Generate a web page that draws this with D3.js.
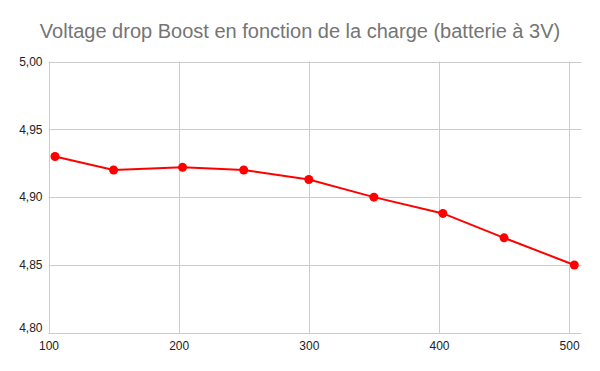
<!DOCTYPE html>
<html>
<head>
<meta charset="utf-8">
<script src="https://cdn.jsdelivr.net/npm/d3@7"></script>
<style>
  body { margin: 0; background: #fff; }
  svg { display: block; font-family: "Liberation Sans", Arial, sans-serif; }
</style>
</head>
<body>
<div class="chart"></div>
<script>
// load data
const charge = [105, 150, 203, 250, 300, 350, 403, 450, 504];
const voltage = [4.93, 4.92, 4.922, 4.92, 4.913, 4.9, 4.888, 4.87, 4.85];
const xTicks = [100, 200, 300, 400, 500];
const yTicks = [4.8, 4.85, 4.9, 4.95, 5.0];
const title = "Voltage drop Boost en fonction de la charge (batterie à 3V)";

const data = charge.map((c, i) => ({ charge: c, voltage: voltage[i] }));

// global svg variables
let width = 600;
let height = 371;
let margin = { top: 61.5, right: 18.5, bottom: 38.5, left: 48.5 };

let x = d3
  .scaleLinear()
  .domain([100, 509.5])
  .range([margin.left, width - margin.right]);

let y = d3
  .scaleLinear()
  .domain([4.8, 5.0])
  .range([height - margin.bottom + 0.3, margin.top]);

let graph = d3
  .select(".chart")
  .append("svg")
  .attr("width", width)
  .attr("height", height);

// title
graph
  .append("text")
  .text(title)
  .attr("x", width / 2)
  .attr("y", 37.5)
  .attr("fill", "#757575")
  .style("font-size", "20px")
  .style("text-anchor", "middle");

// vertical grid
graph
  .append("g")
  .attr("id", "xGrid")
  .selectAll("line")
  .data(xTicks)
  .enter()
  .append("line")
  .attr("x1", d => Math.round(x(d)) + 0.5)
  .attr("x2", d => Math.round(x(d)) + 0.5)
  .attr("y1", margin.top)
  .attr("y2", y(4.8))
  .attr("stroke", "#cccccc");

// horizontal grid
graph
  .append("g")
  .attr("id", "yGrid")
  .selectAll("line")
  .data(yTicks)
  .enter()
  .append("line")
  .attr("x1", margin.left)
  .attr("x2", width - margin.right)
  .attr("y1", d => Math.round(y(d)) + 0.5)
  .attr("y2", d => Math.round(y(d)) + 0.5)
  .attr("stroke", "#cccccc");

// Axis ticks
let fmt = d => d3.format(".2f")(d).replace(".", ",");

let xAxis = g =>
  g
    .attr("transform", `translate(0,${y(4.8)})`)
    .call(d3.axisBottom(x).tickValues(xTicks).tickSize(0).tickPadding(9))
    .call(g => g.select(".domain").remove())
    .attr("id", "xAxis");

let yAxis = g =>
  g
    .attr("transform", `translate(${margin.left},0)`)
    .call(d3.axisLeft(y).tickValues(yTicks).tickFormat(fmt).tickSize(0).tickPadding(6))
    .call(g => g.select(".domain").remove())
    .attr("id", "yAxis");

graph.append("g").call(xAxis);
graph.append("g").call(yAxis);

// bottom y label sits above its gridline
graph
  .select("#yAxis")
  .selectAll(".tick text")
  .filter(d => d === 4.8)
  .attr("dy", "-0.1em");

graph
  .selectAll(".tick text")
  .attr("fill", "#222")
  .style("font-size", "12px")
  .style("font-family", "'Liberation Sans', Arial, sans-serif");

// line
let line = d3
  .line()
  .x(d => x(d.charge))
  .y(d => y(d.voltage));

graph
  .append("path")
  .datum(data)
  .attr("d", line)
  .attr("fill", "none")
  .attr("stroke", "#ff0000")
  .attr("stroke-width", 2);

// points
graph
  .append("g")
  .attr("id", "points")
  .selectAll("circle")
  .data(data)
  .enter()
  .append("circle")
  .attr("cx", d => x(d.charge))
  .attr("cy", d => y(d.voltage))
  .attr("r", 4.5)
  .attr("fill", "#ff0000");
</script>
</body>
</html>
